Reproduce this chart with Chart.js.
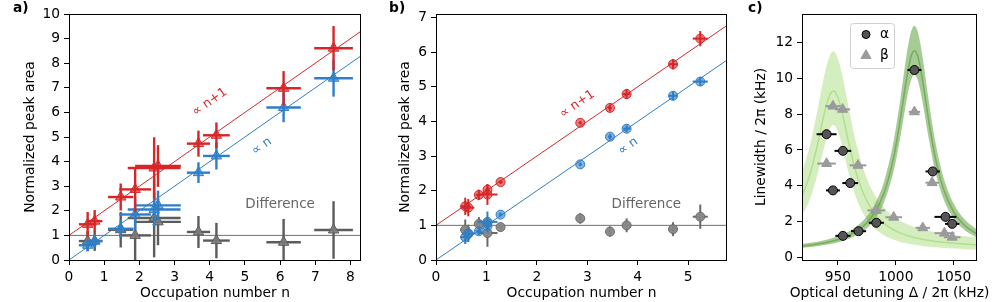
<!DOCTYPE html>
<html><head><meta charset="utf-8">
<script src="https://cdn.jsdelivr.net/npm/chart.js@4/dist/chart.umd.min.js"></script>
<style>
html,body{margin:0;padding:0;background:#fff;width:997px;height:302px;overflow:hidden}
canvas{position:absolute;top:0}
</style></head><body>
<canvas id="ca" width="370" height="302" style="left:0px"></canvas>
<canvas id="cb" width="365" height="302" style="left:370px"></canvas>
<canvas id="cc" width="262" height="302" style="left:735px"></canvas>
<script>
// ===== Panel a) data =====
const aN       = [0.53, 0.73, 1.47, 1.88, 2.42, 2.53, 3.68, 4.19, 6.10, 7.52];
const aNErr    = [0.25, 0.22, 0.36, 0.45, 0.75, 0.65, 0.33, 0.38, 0.49, 0.55];
const aRed     = [1.45, 1.58, 2.56, 2.87, 3.74, 3.82, 4.73, 5.07, 6.98, 8.61];
const aRedErr  = [0.50, 0.45, 0.55, 0.90, 1.25, 0.85, 0.53, 0.52, 0.70, 0.90];
const aBlue    = [0.60, 0.77, 1.27, 1.85, 2.05, 2.22, 3.55, 4.23, 6.20, 7.39];
const aBlueErr = [0.25, 0.25, 0.35, 0.65, 0.70, 0.60, 0.42, 0.55, 0.60, 0.75];
const aDiff    = [0.77, 0.77, 1.23, 1.00, 1.71, 1.55, 1.14, 0.79, 0.72, 1.22];
const aDiffErr = [0.40, 0.40, 0.72, 1.00, 1.60, 0.95, 0.65, 0.72, 0.95, 1.17];
const aFitN    = [0, 8.3];
const aFitRed  = [1, 9.3];
const aFitBlue = [0, 8.3];
const aFitDiff = [1, 1];
const aXTicks  = [0, 1, 2, 3, 4, 5, 6, 7, 8];
const aYTicks  = [0, 1, 2, 3, 4, 5, 6, 7, 8, 9, 10];

// ===== Panel b) data =====
const bN       = [0.58, 0.64, 0.85, 1.02, 1.02, 1.28, 2.86, 3.45, 3.78, 4.70, 5.24];
const bNErr    = [0.10, 0.12, 0.06, 0.04, 0.20, 0.04, 0.03, 0.04, 0.07, 0.08, 0.15];
const bRed     = [1.55, 1.51, 1.88, 2.03, 1.89, 2.25, 3.96, 4.39, 4.79, 5.65, 6.39];
const bRedErr  = [0.25, 0.25, 0.15, 0.15, 0.30, 0.06, 0.05, 0.10, 0.15, 0.15, 0.22];
const bBlue    = [0.66, 0.75, 0.83, 0.97, 1.10, 1.31, 2.76, 3.56, 3.79, 4.74, 5.15];
const bBlueErr = [0.20, 0.20, 0.10, 0.08, 0.30, 0.06, 0.05, 0.08, 0.10, 0.12, 0.12];
const bDiff    = [0.87, 0.77, 1.04, 1.06, 0.78, 0.95, 1.20, 0.82, 1.00, 0.89, 1.25];
const bDiffErr = [0.30, 0.25, 0.20, 0.15, 0.40, 0.08, 0.15, 0.15, 0.20, 0.20, 0.35];
const bFitN    = [0, 5.77];
const bFitRed  = [1, 6.77];
const bFitBlue = [0, 5.77];
const bFitDiff = [1, 1];
const bXTicks  = [0, 1, 2, 3, 4, 5];
const bYTicks  = [0, 1, 2, 3, 4, 5, 6, 7];

// ===== Panel c) data =====
const cAlphaD    = [940.2, 945.7, 954.3, 960.6, 954.3, 967.8, 983.1, 1016.0, 1031.8, 1042.8, 1048.6];
const cAlphaDErr = [8.6, 6.0, 7.2, 6.8, 6.5, 6.5, 6.5, 6.0, 6.2, 9.5, 6.2];
const cAlphaW    = [6.88, 3.74, 5.95, 4.15, 1.20, 1.46, 1.93, 10.47, 4.80, 2.26, 1.87];
const cBetaD     = [940.2, 945.7, 954.0, 967.3, 983.1, 998.1, 1016.0, 1023.2, 1031.3, 1041.9, 1048.6];
const cBetaDErr  = [8.0, 6.5, 6.5, 7.2, 7.6, 7.2, 5.0, 6.2, 5.8, 8.6, 7.2];
const cBetaW     = [5.24, 8.45, 8.27, 5.14, 2.62, 2.24, 8.13, 1.65, 4.17, 1.35, 1.12];
const cCurveD    = [919, 926, 932, 937, 941, 944, 946, 948, 951, 955, 960, 966, 973, 981, 990, 998, 1004, 1009, 1013, 1016, 1019, 1023, 1028, 1034, 1041, 1050, 1060, 1070];
const cLightUp   = [4.74, 6.31, 8.11, 9.78, 10.90, 11.40, 11.50, 11.40, 10.90, 9.78, 8.11, 6.31, 4.74, 3.57, 2.75, 2.28, 2.03, 1.87, 1.76, 1.69, 1.63, 1.55, 1.48, 1.40, 1.32, 1.25, 1.18, 1.13];
const cLightMid  = [3.41, 4.67, 6.20, 7.69, 8.73, 9.20, 9.30, 9.20, 8.73, 7.69, 6.20, 4.67, 3.41, 2.50, 1.88, 1.54, 1.35, 1.23, 1.16, 1.10, 1.06, 1.01, 0.95, 0.89, 0.84, 0.78, 0.74, 0.70];
const cLightLow  = [2.32, 3.28, 4.53, 5.85, 6.83, 7.30, 7.40, 7.30, 6.83, 5.85, 4.53, 3.28, 2.32, 1.66, 1.22, 0.99, 0.86, 0.78, 0.73, 0.70, 0.67, 0.63, 0.59, 0.56, 0.52, 0.49, 0.45, 0.43];
const cDarkUp    = [0.75, 0.81, 0.87, 0.94, 1.00, 1.05, 1.09, 1.13, 1.20, 1.31, 1.47, 1.73, 2.14, 2.87, 4.28, 6.47, 8.92, 11.21, 12.59, 12.95, 12.59, 11.21, 8.92, 6.47, 4.49, 2.99, 2.07, 1.55];
const cDarkMid   = [0.63, 0.68, 0.74, 0.79, 0.84, 0.89, 0.92, 0.95, 1.01, 1.10, 1.24, 1.45, 1.81, 2.43, 3.64, 5.57, 7.78, 9.90, 11.21, 11.55, 11.21, 9.90, 7.78, 5.57, 3.83, 2.53, 1.75, 1.30];
const cDarkLow   = [0.53, 0.57, 0.62, 0.67, 0.71, 0.75, 0.77, 0.80, 0.85, 0.93, 1.05, 1.23, 1.53, 2.06, 3.11, 4.79, 6.76, 8.68, 9.88, 10.20, 9.88, 8.68, 6.76, 4.79, 3.27, 2.15, 1.48, 1.10];
const cXTicks    = [950, 1000, 1050];
const cYTicks    = [0, 2, 4, 6, 8, 10, 12];

// ===== styling =====
const FONT = "'DejaVu Sans', sans-serif";
Chart.defaults.font.family = FONT;
Chart.defaults.font.size = 13.8;
Chart.defaults.color = '#000';
Chart.defaults.animation = false;
Chart.defaults.events = [];
Chart.defaults.plugins.legend.display = false;
Chart.defaults.plugins.tooltip.enabled = false;

const RED = '#d62728', RED_FILL = 'rgba(214,39,40,0.6)';
const BLUE = '#2f7ec7', BLUE_FILL = 'rgba(47,126,199,0.6)';
const GRAY = '#5c5c5c', GRAY_FILL = 'rgba(125,125,125,0.85)';

function pts(xs, ys) { return xs.map((x, i) => ({x: x, y: ys[i]})); }
function markerSet(xs, ys, xErr, yErr, color, fill, style, r, errW) {
  return {type: 'scatter', data: pts(xs, ys), pointStyle: style, pointRadius: r,
    backgroundColor: fill, borderColor: color, pointBorderWidth: 1, borderWidth: 1,
    xErr: xErr, yErr: yErr, errColor: color, errWidth: errW, showLine: false};
}
function lineSet(xs, ys, color, w) {
  return {type: 'line', data: pts(xs, ys), borderColor: color, borderWidth: w,
    pointRadius: 0, fill: false, tension: 0};
}
function gridOpt() {
  return {display: true, drawOnChartArea: false, drawTicks: true, tickLength: 5,
    tickColor: '#000', tickWidth: 1};
}
function xScale(min, max, ticks, title, h) {
  return {type: 'linear', position: 'bottom', min: min, max: max,
    afterBuildTicks: s => { s.ticks = ticks.map(v => ({value: v})); },
    afterFit: s => { s.height = h; s.paddingLeft = 0; s.paddingRight = 0; },
    ticks: {autoSkip: false, maxRotation: 0, padding: 4, color: '#000', callback: v => String(v)},
    grid: gridOpt(), border: {display: false},
    title: {display: !!title, text: title || '', color: '#000', padding: {top: 0, bottom: 0}}};
}
function yScale(min, max, ticks, title, w, tpad) {
  return {type: 'linear', position: 'left', min: min, max: max,
    afterBuildTicks: s => { s.ticks = ticks.map(v => ({value: v})); },
    afterFit: s => { s.width = w; s.paddingTop = 0; s.paddingBottom = 0; },
    ticks: {autoSkip: false, padding: 4, color: '#000', callback: v => String(v)},
    grid: gridOpt(), border: {display: false},
    title: {display: true, text: title, color: '#000', padding: {top: tpad, bottom: 0}}};
}

const errorBars = {
  id: 'errorBars',
  beforeDatasetDraw(chart, args) {
    const ds = chart.data.datasets[args.index];
    if (!ds.xErr && !ds.yErr) return;
    const xs = chart.scales.x, ys = chart.scales.y, ctx = chart.ctx, ca = chart.chartArea;
    ctx.save();
    ctx.beginPath(); ctx.rect(ca.left, ca.top, ca.right - ca.left, ca.bottom - ca.top); ctx.clip();
    ctx.strokeStyle = ds.errColor; ctx.lineWidth = ds.errWidth; ctx.lineCap = 'butt';
    ds.data.forEach((p, i) => {
      const px = xs.getPixelForValue(p.x), py = ys.getPixelForValue(p.y);
      if (ds.xErr) {
        ctx.beginPath();
        ctx.moveTo(xs.getPixelForValue(p.x - ds.xErr[i]), py);
        ctx.lineTo(xs.getPixelForValue(p.x + ds.xErr[i]), py);
        ctx.stroke();
      }
      if (ds.yErr) {
        ctx.beginPath();
        ctx.moveTo(px, ys.getPixelForValue(p.y - ds.yErr[i]));
        ctx.lineTo(px, ys.getPixelForValue(p.y + ds.yErr[i]));
        ctx.stroke();
      }
    });
    ctx.restore();
  }
};

const deco = {
  id: 'deco',
  afterDraw(chart, args, opts) {
    const ctx = chart.ctx, ca = chart.chartArea, xs = chart.scales.x, ys = chart.scales.y;
    ctx.save();
    // frame
    ctx.strokeStyle = '#000'; ctx.lineWidth = 1;
    ctx.strokeRect(ca.left + 0.5, ca.top + 0.5, ca.right - ca.left - 1, ca.bottom - ca.top);
    // annotations
    (opts.texts || []).forEach(t => {
      const x = xs.getPixelForValue(t.x), y = ys.getPixelForValue(t.y);
      let ang = 0;
      if (t.slope) {
        const dx = xs.getPixelForValue(1) - xs.getPixelForValue(0);
        const dy = ys.getPixelForValue(t.slope) - ys.getPixelForValue(0);
        ang = Math.atan2(dy, dx);
      }
      ctx.save(); ctx.translate(x, y); ctx.rotate(ang);
      ctx.font = t.size + 'px ' + FONT; ctx.fillStyle = t.color;
      ctx.textAlign = 'center'; ctx.textBaseline = 'middle';
      ctx.fillText(t.text, 0, 0);
      ctx.restore();
    });
    // wide x-axis title (not squeezed to the axis width)
    if (opts.xTitle) {
      ctx.font = '13.8px ' + FONT; ctx.fillStyle = '#000';
      ctx.textAlign = 'center'; ctx.textBaseline = 'middle';
      ctx.fillText(opts.xTitle, (ca.left + ca.right) / 2, chart.height - 8.3);
    }
    // panel label
    if (opts.label) {
      ctx.font = 'bold 13.8px ' + FONT; ctx.fillStyle = '#000';
      ctx.textAlign = 'left'; ctx.textBaseline = 'middle';
      ctx.fillText(opts.label, opts.labelX, opts.labelY);
    }
    // legend
    if (opts.legend) {
      const L = opts.legend;
      ctx.fillStyle = 'rgba(255,255,255,0.85)'; ctx.strokeStyle = '#d0d0d0'; ctx.lineWidth = 1;
      ctx.beginPath();
      if (ctx.roundRect) ctx.roundRect(L.x + 0.5, L.y + 0.5, L.w, L.h, 3); else ctx.rect(L.x + 0.5, L.y + 0.5, L.w, L.h);
      ctx.fill(); ctx.stroke();
      L.items.forEach((it, i) => {
        const yy = L.y + L.first + i * L.step;
        ctx.fillStyle = it.fill; ctx.strokeStyle = it.stroke; ctx.lineWidth = 1;
        Chart.helpers.drawPoint(ctx, {pointStyle: it.style, radius: it.r, rotation: 0, borderWidth: 1}, L.x + L.mx, yy);
        ctx.fillStyle = '#000'; ctx.font = '13.8px ' + FONT;
        ctx.textAlign = 'left'; ctx.textBaseline = 'middle';
        ctx.fillText(it.text, L.x + L.tx, yy);
      });
    }
    ctx.restore();
  }
};

// ===== Panel a =====
new Chart(document.getElementById('ca'), {
  type: 'scatter',
  data: {datasets: [
    markerSet(aN, aRed, aNErr, aRedErr, RED, RED_FILL, 'triangle', 6, 2.4),
    markerSet(aN, aBlue, aNErr, aBlueErr, BLUE, BLUE_FILL, 'triangle', 6, 2.4),
    markerSet(aN, aDiff, aNErr, aDiffErr, GRAY, GRAY_FILL, 'triangle', 6, 2.4),
    lineSet(aFitN, aFitRed, RED, 1),
    lineSet(aFitN, aFitBlue, BLUE, 1),
    lineSet(aFitN, aFitDiff, '#707070', 1)
  ]},
  options: {
    responsive: false,
    layout: {padding: {left: 0, right: 9, top: 14, bottom: 0}},
    scales: {
      x: xScale(0, 8.3, aXTicks, 'Occupation number n', 42),
      y: yScale(0, 10, aYTicks, 'Normalized peak area', 69, 21.7)
    },
    plugins: {deco: {label: 'a)', labelX: 13, labelY: 8, texts: [
      {x: 4.0, y: 6.42, text: '∝ n+1', color: RED, slope: 1, size: 12.5},
      {x: 5.48, y: 4.62, text: '∝ n', color: BLUE, slope: 1, size: 12.5},
      {x: 6.0, y: 2.26, text: 'Difference', color: '#666', slope: 0, size: 13.5}
    ]}}
  },
  plugins: [errorBars, deco]
});

// ===== Panel b =====
new Chart(document.getElementById('cb'), {
  type: 'scatter',
  data: {datasets: [
    markerSet(bN, bRed, bNErr, bRedErr, RED, RED_FILL, 'circle', 4.5, 2),
    markerSet(bN, bBlue, bNErr, bBlueErr, BLUE, BLUE_FILL, 'circle', 4.5, 2),
    markerSet(bN, bDiff, bNErr, bDiffErr, '#6a6a6a', 'rgba(135,135,135,0.95)', 'circle', 4.5, 2),
    lineSet(bFitN, bFitRed, RED, 1),
    lineSet(bFitN, bFitBlue, BLUE, 1),
    lineSet(bFitN, bFitDiff, '#707070', 1)
  ]},
  options: {
    responsive: false,
    layout: {padding: {left: 0, right: 8, top: 14, bottom: 0}},
    scales: {
      x: xScale(0, 5.77, bXTicks, 'Occupation number n', 42),
      y: yScale(0, 7.1, bYTicks, 'Normalized peak area', 66, 26.9)
    },
    plugins: {deco: {label: 'b)', labelX: 19, labelY: 8, texts: [
      {x: 2.8, y: 4.5, text: '∝ n+1', color: RED, slope: 1, size: 12.5},
      {x: 3.81, y: 3.28, text: '∝ n', color: BLUE, slope: 1, size: 12.5},
      {x: 4.17, y: 1.6, text: 'Difference', color: '#666', slope: 0, size: 13.5}
    ]}}
  },
  plugins: [errorBars, deco]
});

// ===== Panel c =====
function curve(arr, color, w, fillTarget, fillColor) {
  return {type: 'line', data: pts(cCurveD, arr), borderColor: color, borderWidth: w,
    pointRadius: 0, cubicInterpolationMode: 'monotone',
    fill: fillTarget === undefined ? false : {target: fillTarget},
    backgroundColor: fillColor || 'rgba(0,0,0,0)'};
}
const LIGHT_FILL = 'rgba(150,212,95,0.40)', LIGHT_LINE = 'rgba(150,212,95,0.55)';
const DARK_FILL = 'rgba(95,160,60,0.55)', DARK_LINE = 'rgba(80,145,50,0.55)';
new Chart(document.getElementById('cc'), {
  type: 'scatter',
  data: {datasets: [
    markerSet(cAlphaD, cAlphaW, cAlphaDErr, null, '#000', '#555555', 'circle', 4.5, 2),
    markerSet(cBetaD, cBetaW, cBetaDErr, null, '#999999', '#9b9b9b', 'triangle', 5.8, 2),
    curve(cDarkMid, DARK_LINE, 1.5),
    curve(cDarkUp, 'rgba(0,0,0,0)', 0, 4, DARK_FILL),
    curve(cDarkLow, 'rgba(0,0,0,0)', 0),
    curve(cLightMid, LIGHT_LINE, 1.5),
    curve(cLightUp, 'rgba(0,0,0,0)', 0, 7, LIGHT_FILL),
    curve(cLightLow, 'rgba(0,0,0,0)', 0)
  ]},
  options: {
    responsive: false,
    layout: {padding: {left: 0, right: 20, top: 14, bottom: 0}},
    scales: {
      x: xScale(919, 1070, cXTicks, '', 42),
      y: yScale(-0.15, 13.6, cYTicks, 'Linewidth / 2π (kHz)', 67, 18.6)
    },
    plugins: {deco: {label: 'c)', labelX: 13, labelY: 8,
      xTitle: 'Optical detuning Δ / 2π (kHz)',
      legend: {x: 115, y: 23, w: 44, h: 45, mx: 16, tx: 30, first: 11.5, step: 21, items: [
        {style: 'circle', r: 4, fill: '#555555', stroke: '#000', text: 'α'},
        {style: 'triangle', r: 5.8, fill: '#9b9b9b', stroke: '#999999', text: 'β'}
      ]}}}
  },
  plugins: [errorBars, deco]
});
</script>
</body></html>
